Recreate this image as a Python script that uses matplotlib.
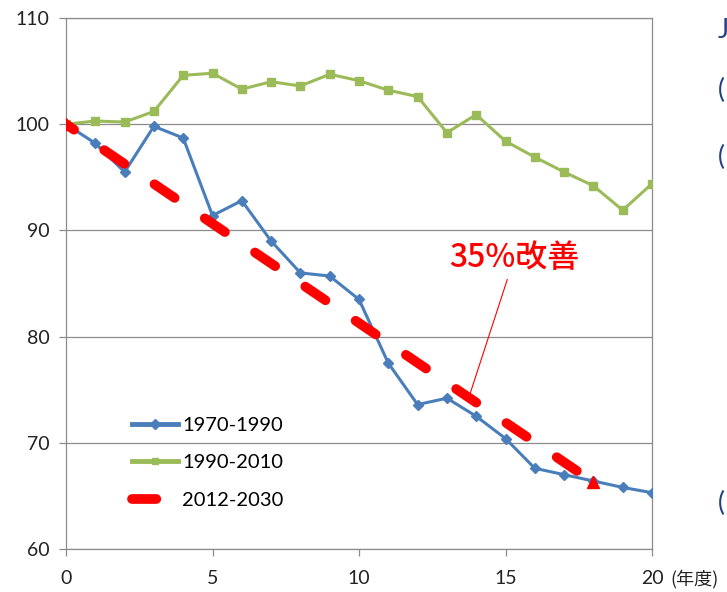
import matplotlib.pyplot as plt
from matplotlib.lines import Line2D

plt.rcParams['font.family'] = ['Lato', 'Noto Sans CJK JP', 'DejaVu Sans']

years = list(range(21))
series_1970 = [100.0, 98.2, 95.5, 99.8, 98.7, 91.4, 92.8, 89.0, 86.0, 85.7, 83.5,
               77.5, 73.6, 74.2, 72.5, 70.4, 67.6, 67.0, 66.4, 65.8, 65.3]
series_1990 = [100.0, 100.3, 100.2, 101.2, 104.6, 104.8, 103.3, 104.0, 103.6, 104.7, 104.1,
               103.2, 102.6, 99.2, 100.9, 98.4, 96.9, 95.5, 94.2, 91.9, 94.4]
target_x = [0, 18]
target_2012 = [100.0, 66.3]

labels = ['1970-1990', '1990-2010', '2012-2030']
blue = '#4A7EBB'
green = '#9BBB59'
red = '#FF0000'
grid_grey = '#8C8C8C'
target_dash = (1.5, (2.5, 3.75))

fig = plt.figure(figsize=(7.27, 5.92), dpi=100)
ax = fig.add_axes([66 / 727, 1 - 549 / 592, 586 / 727, 531 / 592])

ax.plot(years, series_1970, color=blue, lw=2.2, marker='D', ms=5.5, zorder=3)
ax.plot(years, series_1990, color=green, lw=2.2, marker='s', ms=5.5, zorder=3)
ax.plot(target_x, target_2012, color=red, lw=7, linestyle=target_dash,
        dash_capstyle='round', zorder=4)
ax.plot(target_x, target_2012, color=red, lw=0, marker='^', ms=9, zorder=5)

ax.set_xlim(0, 20)
ax.set_ylim(60, 110)
ax.set_xticks([0, 5, 10, 15, 20])
ax.set_yticks(range(60, 111, 10))
ax.grid(axis='y', color=grid_grey, lw=0.9)
ax.set_axisbelow(True)
for s in ax.spines.values():
    s.set_color(grid_grey)
    s.set_linewidth(0.9)
ax.tick_params(colors=grid_grey, labelcolor='#222222', labelsize=14, length=5, width=0.9)
ax.tick_params(axis='x', pad=10)
ax.tick_params(axis='y', pad=7)

ax.annotate('35%改善', xy=(13.8, 74.7), xytext=(15.3, 87.4),
            color=red, fontsize=23, fontweight='medium', ha='center', va='center',
            family=['Noto Sans CJK JP'],
            arrowprops=dict(arrowstyle='-', color=red, lw=0.8, shrinkA=2, shrinkB=0))

handles = [
    Line2D([], [], color=blue, lw=3.5, marker='D', ms=5),
    Line2D([], [], color=green, lw=3.5, marker='s', ms=5),
    Line2D([], [], color=red, lw=7, linestyle=(0, (2.5, 3.75)), dash_capstyle='round'),
]
ax.legend(handles, labels, loc='upper left', bbox_to_anchor=(122 / 727, 1 - 407 / 592),
          bbox_transform=fig.transFigure, frameon=False, fontsize=14.5,
          handlelength=2.3, handletextpad=0.2, labelspacing=1.0, borderpad=0)

fig.text(670 / 727, 1 - 579 / 592, '(年度)', fontsize=13, va='center', ha='left',
         family=['Noto Sans CJK JP'], color='#222222')

# bits of the neighbouring slide text at the right edge
navy = '#1F3F86'
for ypx, ch in [(30, 'J'), (90, '('), (157, '('), (503, '(')]:
    fig.text(718 / 727, 1 - ypx / 592, ch, fontsize=19, color=navy, va='center', ha='left')

fig.savefig('out.png', dpi=100)
